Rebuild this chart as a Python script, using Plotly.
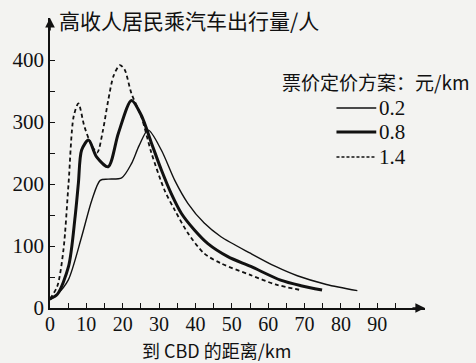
import plotly.graph_objects as go

# Distance from the CBD (km) and trips by high-income residents, per fare scheme
dist_02 = [0, 2, 5, 8.7, 11.5, 13.8, 16, 19.7, 22.4, 24.5, 27, 30.6, 34.3, 37.9, 42.4, 47, 55.2, 62, 68, 76, 84.5]
trips_02 = [13, 22, 45, 115, 174, 206, 208, 210, 233, 262, 287, 255, 206, 169, 137, 115, 88, 67, 52, 38, 28]

dist_08 = [0, 2, 5.1, 6.9, 7.8, 8.7, 10.6, 12.8, 16, 18.8, 22.4, 25.1, 27.9, 30.6, 33.3, 36.1, 39.7, 43.4, 48.9, 55.2, 63.4, 69, 74.8]
trips_08 = [15, 22, 67, 147, 201, 255, 271, 244, 228, 282, 335, 311, 266, 223, 185, 153, 126, 104, 83, 67, 45, 36, 29]

dist_14 = [0, 2, 3.7, 5.1, 6.5, 7.8, 9.5, 11.5, 13, 14.5, 16, 17.5, 19.2, 20.5, 22.4, 25.1, 27.9, 31.5, 34.3, 37.9, 42.4, 47, 55.2, 62, 68.9]
trips_14 = [15, 35, 94, 201, 309, 330, 292, 262, 251, 285, 335, 375, 392, 385, 346, 309, 250, 190, 158, 121, 88, 72, 53, 38, 29]

x_ticks = list(range(0, 100, 5))
x_labels = [str(v) if v % 10 == 0 else "" for v in x_ticks]
y_ticks = list(range(0, 450, 50))
y_labels = [str(v) if v % 100 == 0 else "" for v in y_ticks]

fare_names = ["0.2", "0.8", "1.4"]

X_MAX = 103.1
Y_MAX = 468

NUM_FONT = "Liberation Serif, Noto Sans CJK SC, serif"
CJK_FONT = "Noto Sans CJK SC, Liberation Serif, serif"
INK = "#111111"
PAPER = "#f3f3f1"
SMOOTH = 0.8

fig = go.Figure()
fig.add_trace(go.Scatter(x=dist_02, y=trips_02, mode="lines", name=fare_names[0],
                         line=dict(color=INK, width=1.4, shape="spline", smoothing=SMOOTH),
                         showlegend=False))
fig.add_trace(go.Scatter(x=dist_08, y=trips_08, mode="lines", name=fare_names[1],
                         line=dict(color=INK, width=3, shape="spline", smoothing=SMOOTH),
                         showlegend=False))
fig.add_trace(go.Scatter(x=dist_14, y=trips_14, mode="lines", name=fare_names[2],
                         line=dict(color=INK, width=1.8, dash="4px,3px", shape="spline", smoothing=SMOOTH),
                         showlegend=False))

fig.update_layout(
    width=476, height=363,
    margin=dict(l=48, r=51, t=18, b=55),
    paper_bgcolor=PAPER, plot_bgcolor=PAPER,
    font=dict(family=NUM_FONT, size=21, color=INK),
    xaxis=dict(range=[0, X_MAX], showgrid=False, zeroline=False,
               showline=True, linecolor=INK, linewidth=1.6,
               ticks="inside", ticklen=5, tickwidth=1.2, tickcolor=INK,
               tickvals=x_ticks, ticktext=x_labels, ticklabelstandoff=-3,
               tickfont=dict(family=NUM_FONT, size=20, color=INK)),
    yaxis=dict(range=[0, Y_MAX], showgrid=False, zeroline=False,
               showline=True, linecolor=INK, linewidth=1.6,
               ticks="inside", ticklen=5, tickwidth=1.2, tickcolor=INK,
               tickvals=y_ticks, ticktext=y_labels,
               tickfont=dict(family=NUM_FONT, size=21, color=INK)),
)

# Arrowheads at the ends of both axes
fig.add_annotation(x=X_MAX, y=0, xref="x", yref="y", ax=-14, ay=0, text="",
                   showarrow=True, arrowhead=2, arrowsize=1.2, arrowwidth=1.6, arrowcolor=INK)
fig.add_annotation(x=0, y=Y_MAX, xref="x", yref="y", ax=0, ay=14, text="",
                   showarrow=True, arrowhead=2, arrowsize=1.2, arrowwidth=1.6, arrowcolor=INK)


def px_x(px):
    return (px - 48) / 377


def px_y(py):
    return (308 - py) / 290


# Axis titles
fig.add_annotation(x=px_x(55), y=px_y(20), xref="paper", yref="paper", xanchor="left", yanchor="middle",
                   text="高收人居民乘汽车出行量/人", showarrow=False,
                   font=dict(family=CJK_FONT, size=21, color=INK))
fig.add_annotation(x=px_x(215), y=px_y(350), xref="paper", yref="paper", xanchor="center", yanchor="middle",
                   text="到 CBD 的距离/km", showarrow=False, borderpad=0,
                   font=dict(family=CJK_FONT, size=18, color=INK))

# Key for the three fare schemes
fig.add_annotation(x=px_x(376), y=px_y(81), xref="paper", yref="paper", xanchor="center", yanchor="middle",
                   text="票价定价方案：元/km", showarrow=False,
                   font=dict(family=CJK_FONT, size=19, color=INK))

key_rows = [
    (fare_names[0], 108, dict(color=INK, width=1.4)),
    (fare_names[1], 132, dict(color=INK, width=3)),
    (fare_names[2], 157, dict(color=INK, width=1.6, dash="3px,2px")),
]
for label, py, style in key_rows:
    fig.add_shape(type="line", xref="paper", yref="paper",
                  x0=px_x(336), x1=px_x(376), y0=px_y(py), y1=px_y(py), line=style)
    fig.add_annotation(x=px_x(377), y=px_y(py), xref="paper", yref="paper", xanchor="left", yanchor="middle",
                       text=label, showarrow=False, font=dict(family=NUM_FONT, size=21, color=INK))

fig.write_html("out.html")
